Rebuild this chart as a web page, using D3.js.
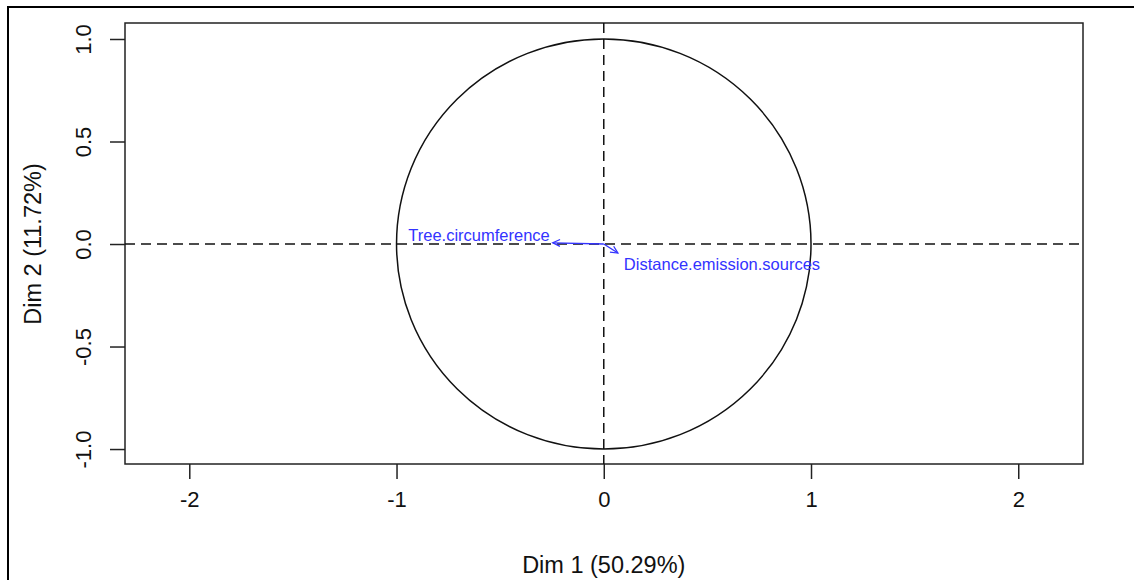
<!DOCTYPE html>
<html><head><meta charset="utf-8">
<script src="https://cdn.jsdelivr.net/npm/d3@7/dist/d3.min.js"></script>
<style>html,body{margin:0;padding:0;background:#fff;overflow:hidden}</style>
</head><body>
<script>
const varNames = ["Tree.circumference", "Distance.emission.sources"];
const dim1 = [-0.246, 0.068];
const dim2 = [0.006, -0.044];
const xTicks = [-2, -1, 0, 1, 2];
const yTicks = [-1.0, -0.5, 0.0, 0.5, 1.0];
const xTitle = "Dim 1 (50.29%)";
const yTitle = "Dim 2 (11.72%)";

const W = 1134, H = 580;
const svg = d3.select("body").append("svg").attr("width", W).attr("height", H);
const font = "Liberation Sans, Arial, Helvetica, sans-serif";
const hy = s => s.replace("\u2212", "-");

// outer frame (top/left visible)
svg.append("rect").attr("x", 8).attr("y", 7).attr("width", 1200).attr("height", 700)
  .attr("fill", "none").attr("stroke", "#000").attr("stroke-width", 2);

const box = {l: 125, r: 1083, t: 23, b: 464};
const x = d3.scaleLinear().domain([-2.3102, 2.3124]).range([box.l, box.r]);
const y = d3.scaleLinear().domain([-1.073, 1.078]).range([box.b, box.t]);

// plot box
svg.append("rect").attr("x", box.l).attr("y", box.t).attr("width", box.r - box.l).attr("height", box.b - box.t)
  .attr("fill", "none").attr("stroke", "#222").attr("stroke-width", 1.5);

// axes
const xAxis = d3.axisBottom(x).tickValues(xTicks).tickFormat(d => hy(d3.format("d")(d))).tickSize(15).tickPadding(12);
const gx = svg.append("g").attr("transform", `translate(0,${box.b})`).call(xAxis);
gx.select(".domain").remove();
gx.selectAll("line").attr("stroke", "#222").attr("stroke-width", 1.5);
gx.selectAll("text").attr("font-family", font).attr("font-size", 22).attr("fill", "#111");

const yAxis = d3.axisLeft(y).tickValues(yTicks).tickFormat(d => hy(d3.format(".1f")(d))).tickSize(15).tickPadding(0);
const gy = svg.append("g").attr("transform", `translate(${box.l},0)`).call(yAxis);
gy.select(".domain").remove();
gy.selectAll("line").attr("stroke", "#222").attr("stroke-width", 1.5);
gy.selectAll("text").attr("font-family", font).attr("font-size", 22).attr("fill", "#111")
  .attr("x", null).attr("dy", null)
  .attr("text-anchor", "middle")
  .attr("transform", "translate(-42,0) rotate(-90)")
  .attr("y", 8);

// axis titles
svg.append("text").attr("x", (x(0))).attr("y", 573).attr("text-anchor", "middle")
  .attr("font-family", font).attr("font-size", 23.5).attr("fill", "#111").text(xTitle);
svg.append("text").attr("transform", `translate(41,${y(0)}) rotate(-90)`).attr("text-anchor", "middle")
  .attr("font-family", font).attr("font-size", 23.5).attr("fill", "#111").text(yTitle);

// circle
svg.append("ellipse").attr("cx", x(0)).attr("cy", y(0))
  .attr("rx", x(1) - x(0)).attr("ry", y(0) - y(1))
  .attr("fill", "none").attr("stroke", "#111").attr("stroke-width", 1.5);

// dashed reference lines
svg.append("line").attr("x1", box.l).attr("x2", box.r).attr("y1", y(0)).attr("y2", y(0))
  .attr("stroke", "#111").attr("stroke-width", 1.5).attr("stroke-dasharray", "10,6");
svg.append("line").attr("x1", x(0)).attr("x2", x(0)).attr("y1", box.t).attr("y2", box.b)
  .attr("stroke", "#111").attr("stroke-width", 1.5).attr("stroke-dasharray", "10,6");

// arrows
const blue = "#3333ff";
const data = varNames.map((n, i) => ({name: n, a: dim1[i], b: dim2[i]}));
data.forEach(d => {
  const x0 = x(0), y0 = y(0), x1 = x(d.a), y1 = y(d.b);
  svg.append("line").attr("x1", x0).attr("y1", y0).attr("x2", x1).attr("y2", y1)
    .attr("stroke", blue).attr("stroke-width", 1.3);
  const ang = Math.atan2(y1 - y0, x1 - x0);
  const len = 8, spread = Math.PI / 7;
  const p = [
    [x1 - len * Math.cos(ang - spread), y1 - len * Math.sin(ang - spread)],
    [x1, y1],
    [x1 - len * Math.cos(ang + spread), y1 - len * Math.sin(ang + spread)]
  ];
  svg.append("path").attr("d", d3.line()(p)).attr("fill", "none").attr("stroke", blue).attr("stroke-width", 1.3);
  const left = d.a < 0;
  svg.append("text")
    .attr("x", left ? x1 - 3 : x1 + 6)
    .attr("y", left ? y1 - 2 : y1 + 17)
    .attr("text-anchor", left ? "end" : "start")
    .attr("font-family", font).attr("font-size", 16.5).attr("fill", blue).text(d.name);
});
</script>
</body></html>
